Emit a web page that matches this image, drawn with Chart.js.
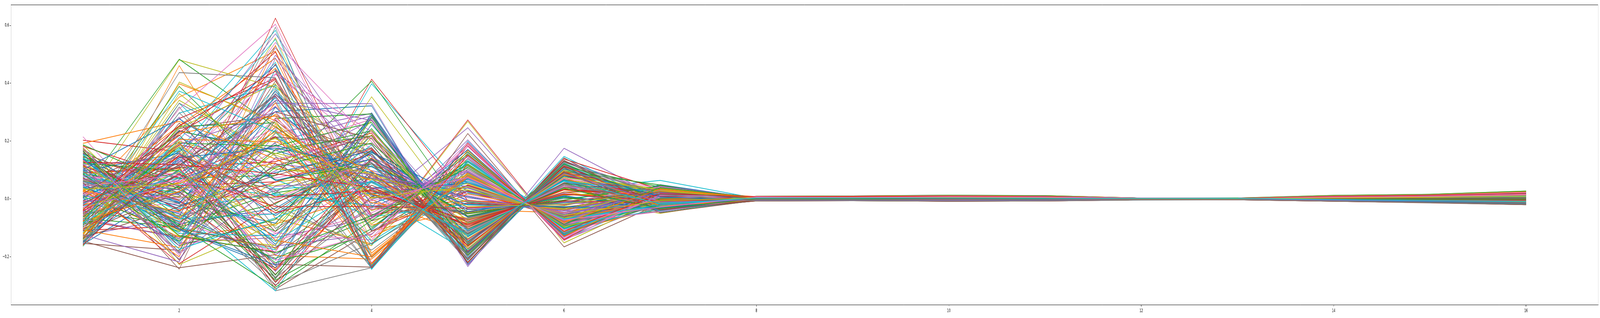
<!DOCTYPE html>
<html>
<head>
<meta charset="utf-8">
<script src="https://cdn.jsdelivr.net/npm/chart.js@4.4.1/dist/chart.umd.min.js"></script>
<style>
html, body { margin: 0; padding: 0; background: #ffffff; overflow: hidden; }
#wrap { width: 7813px; height: 813px; transform-origin: 0 0; }
canvas { display: block; }
</style>
</head>
<body>
<div id="wrap"><canvas id="c" width="7813" height="813" style="width:7813px;height:813px"></canvas></div>
<script>
// x positions shared by every series, and the tick labels
const xCategories = [1, 2, 3, 4, 5, 6, 7, 8, 9, 10, 11, 12, 13, 14, 15, 16];
const xTickValues = [2, 4, 6, 8, 10, 12, 14, 16];
const yTickValues = [-0.2, 0.0, 0.2, 0.4, 0.6];

// series values: one array per line, values at x = 1..16
const s000 = [0.131, 0.021, 0.214, 0.038, 0.061, -0.071, 0.012, 0.003, -0.002, 0.006, 0.004, 0.001, -0.001, 0.005, 0.008, 0.012];
const s001 = [-0.021, 0.142, 0.452, -0.003, -0.121, 0.047, -0.009, -0.002, 0.004, -0.003, 0.002, 0.000, 0.002, -0.003, -0.006, -0.010];
const s002 = [0.174, -0.064, -0.206, -0.068, 0.116, -0.094, -0.004, 0.006, 0.001, 0.009, -0.002, 0.002, 0.001, 0.007, 0.011, 0.019];
const s003 = [-0.142, 0.187, 0.121, -0.036, -0.015, -0.031, 0.027, -0.001, 0.003, -0.004, 0.005, -0.002, 0.000, -0.004, 0.002, -0.005];
const s004 = [0.052, -0.152, -0.134, -0.066, 0.169, -0.117, -0.021, 0.008, 0.006, 0.011, 0.007, 0.003, 0.002, 0.009, 0.013, 0.021];
const s005 = [-0.087, 0.244, 0.287, 0.148, -0.148, 0.102, 0.018, -0.004, -0.001, -0.006, -0.003, -0.002, -0.001, -0.005, -0.009, -0.014];
const s006 = [0.018, -0.048, -0.052, 0.121, -0.062, 0.019, -0.007, 0.002, -0.003, 0.004, 0.001, 0.001, 0.003, 0.002, 0.005, 0.009];
const s007 = [-0.063, 0.072, 0.338, -0.203, 0.097, -0.098, 0.034, 0.004, 0.007, 0.001, 0.006, -0.001, -0.002, 0.006, 0.009, 0.016];
const s008 = [0.094, 0.038, 0.046, 0.112, -0.081, 0.041, -0.031, -0.003, 0.002, -0.002, -0.004, 0.000, 0.001, -0.002, -0.004, -0.007];
const s009 = [-0.118, 0.297, 0.392, -0.243, 0.132, -0.081, 0.009, 0.005, 0.008, 0.012, 0.009, 0.002, 0.000, 0.010, 0.014, 0.024];
const s010 = [0.112, -0.107, -0.238, 0.298, -0.173, 0.087, 0.021, -0.005, -0.004, -0.007, -0.005, -0.003, -0.002, -0.006, -0.011, -0.017];
const s011 = [0.007, 0.352, 0.511, -0.111, -0.037, -0.048, 0.042, 0.001, 0.005, 0.002, 0.003, 0.001, 0.001, 0.001, -0.001, 0.003];
const s012 = [-0.041, -0.091, 0.021, 0.072, 0.024, -0.063, -0.018, 0.007, 0.000, 0.008, -0.001, 0.002, 0.003, 0.008, 0.012, 0.020];
const s013 = [0.203, 0.163, -0.287, 0.082, -0.097, 0.061, -0.026, -0.006, -0.005, -0.008, -0.006, -0.003, -0.003, -0.007, -0.012, -0.018];
const s014 = [0.036, 0.089, -0.163, -0.123, 0.204, -0.141, -0.012, 0.009, 0.010, 0.013, 0.010, 0.003, 0.002, 0.011, 0.015, 0.026];
const s015 = [-0.154, -0.178, 0.362, 0.068, -0.104, 0.054, 0.016, -0.002, 0.001, -0.001, 0.000, -0.001, 0.000, -0.001, -0.003, -0.004];
const s016 = [-0.096, 0.131, 0.072, 0.138, -0.029, -0.012, -0.038, -0.003, -0.006, -0.005, -0.002, -0.002, -0.001, -0.004, -0.007, -0.011];
const s017 = [0.071, -0.003, 0.193, -0.241, 0.141, -0.102, 0.003, 0.006, 0.004, 0.010, 0.008, 0.002, 0.001, 0.008, 0.010, 0.018];
const s018 = [-0.012, 0.481, 0.386, 0.137, -0.092, 0.038, 0.024, 0.002, 0.003, 0.001, 0.002, 0.000, 0.001, 0.003, 0.004, 0.006];
const s019 = [0.143, -0.097, -0.176, 0.398, 0.021, -0.037, 0.011, -0.001, 0.002, -0.002, 0.001, 0.001, -0.001, 0.000, -0.002, -0.003];
const s020 = [-0.149, 0.234, 0.168, 0.069, 0.008, -0.054, 0.029, 0.003, -0.001, 0.004, 0.002, 0.001, 0.002, 0.004, 0.006, 0.010];
const s021 = [0.089, 0.104, -0.196, -0.208, 0.072, -0.079, -0.027, 0.004, 0.006, 0.007, 0.005, 0.002, 0.001, 0.006, 0.009, 0.015];
const s022 = [0.025, 0.483, 0.248, 0.019, 0.038, -0.072, 0.006, 0.001, 0.004, 0.003, 0.004, 0.000, 0.000, 0.002, 0.001, 0.004];
const s023 = [-0.074, -0.131, -0.183, 0.414, -0.006, -0.021, 0.035, 0.000, 0.001, 0.002, 0.000, 0.001, 0.001, 0.001, 0.003, 0.002];
const s024 = [-0.128, -0.062, 0.097, 0.273, -0.112, 0.061, -0.015, -0.004, -0.002, -0.005, -0.004, -0.002, -0.002, -0.005, -0.008, -0.013];
const s025 = [0.058, 0.196, -0.312, -0.112, 0.071, -0.088, 0.019, 0.005, 0.005, 0.006, 0.004, 0.001, 0.000, 0.005, 0.007, 0.011];
const s026 = [0.161, -0.121, 0.431, 0.171, -0.102, 0.043, -0.041, -0.002, 0.000, -0.003, -0.001, -0.001, 0.001, -0.002, -0.005, -0.008];
const s027 = [-0.033, 0.113, 0.361, 0.154, -0.218, 0.128, 0.013, -0.007, -0.005, -0.008, -0.007, -0.004, -0.003, -0.008, -0.014, -0.020];
const s028 = [0.117, 0.004, 0.557, -0.147, 0.138, -0.113, -0.008, 0.008, 0.009, 0.011, 0.011, 0.003, 0.003, 0.012, 0.016, 0.027];
const s029 = [-0.161, 0.331, 0.013, -0.023, -0.084, 0.031, 0.064, 0.002, 0.002, 0.000, 0.001, 0.000, 0.000, 0.000, 0.001, 0.001];
const s030 = [0.083, -0.013, 0.302, 0.322, -0.226, 0.119, -0.019, 0.003, 0.001, 0.005, 0.003, 0.001, 0.002, 0.004, 0.005, 0.008];
const s031 = [-0.051, 0.184, -0.244, 0.033, -0.081, 0.024, -0.022, -0.001, -0.003, -0.002, -0.001, -0.001, -0.002, -0.003, -0.004, -0.006];
const s032 = [0.137, 0.071, 0.081, 0.407, -0.063, 0.012, 0.031, 0.001, 0.003, 0.002, 0.003, 0.001, 0.000, 0.002, 0.003, 0.005];
const s033 = [-0.009, 0.034, 0.466, -0.222, 0.118, -0.107, 0.004, 0.006, 0.007, 0.009, 0.006, 0.002, 0.001, 0.007, 0.011, 0.017];
const s034 = [0.046, -0.208, 0.227, 0.296, -0.181, 0.096, -0.033, -0.005, -0.004, -0.006, -0.005, -0.002, -0.002, -0.006, -0.010, -0.015];
const s035 = [-0.108, 0.101, 0.529, -0.024, -0.008, -0.028, 0.008, 0.000, 0.000, 0.001, -0.001, 0.000, 0.000, 0.000, 0.000, -0.001];
const s036 = [0.215, -0.156, -0.121, 0.073, 0.011, -0.049, -0.012, 0.004, 0.002, 0.005, 0.002, 0.001, 0.001, 0.004, 0.006, 0.009];
const s037 = [-0.136, 0.331, 0.149, -0.238, 0.159, -0.118, 0.022, 0.007, 0.008, 0.010, 0.009, 0.003, 0.002, 0.009, 0.014, 0.022];
const s038 = [0.064, 0.022, -0.147, 0.353, -0.088, 0.034, 0.017, 0.000, 0.002, 0.001, 0.002, 0.001, 0.000, 0.001, 0.002, 0.003];
const s039 = [-0.024, 0.052, 0.012, 0.019, -0.184, 0.098, 0.005, -0.004, -0.002, -0.005, -0.003, -0.002, -0.001, -0.004, -0.007, -0.012];
const s040 = [0.011, -0.043, 0.354, -0.031, 0.118, -0.083, -0.029, 0.005, 0.005, 0.008, 0.006, 0.002, 0.001, 0.006, 0.010, 0.016];
const s041 = [-0.163, 0.461, -0.068, -0.156, 0.049, -0.061, 0.013, 0.003, 0.004, 0.004, 0.003, 0.001, 0.001, 0.003, 0.004, 0.007];
const s042 = [0.153, -0.089, 0.278, 0.294, -0.198, 0.113, -0.044, -0.006, -0.005, -0.007, -0.006, -0.003, -0.002, -0.007, -0.012, -0.019];
const s043 = [-0.057, 0.278, 0.417, -0.112, 0.026, -0.066, 0.037, 0.004, 0.006, 0.006, 0.005, 0.002, 0.001, 0.005, 0.007, 0.012];
const s044 = [0.102, -0.071, 0.196, 0.287, -0.234, 0.175, 0.002, -0.003, -0.001, -0.004, -0.002, -0.001, -0.001, -0.003, -0.006, -0.009];
const s045 = [-0.078, 0.026, -0.226, -0.236, 0.226, -0.166, -0.016, 0.007, 0.006, 0.009, 0.008, 0.002, 0.002, 0.008, 0.012, 0.019];
const s046 = [0.031, 0.062, 0.183, 0.022, 0.054, -0.076, 0.026, 0.002, 0.003, 0.003, 0.001, 0.001, 0.000, 0.002, 0.003, 0.006];
const s047 = [-0.117, 0.103, -0.271, 0.083, -0.159, 0.082, -0.006, -0.004, -0.003, -0.006, -0.004, -0.002, -0.002, -0.005, -0.009, -0.014];
const s048 = [0.186, -0.131, 0.059, 0.094, -0.049, 0.006, -0.050, 0.001, -0.001, 0.000, 0.000, 0.000, 0.001, 0.000, -0.001, -0.002];
const s049 = [-0.092, 0.204, 0.583, -0.202, 0.087, -0.097, 0.014, 0.008, 0.009, 0.012, 0.010, 0.003, 0.002, 0.010, 0.015, 0.025];
const s050 = [0.127, -0.011, -0.084, 0.283, -0.203, 0.097, -0.024, 0.002, 0.001, 0.002, 0.001, 0.000, 0.001, 0.002, 0.002, 0.004];
const s051 = [0.003, 0.253, 0.487, -0.187, 0.076, -0.083, 0.028, 0.005, 0.006, 0.007, 0.005, 0.002, 0.001, 0.005, 0.008, 0.013];
const s052 = [-0.068, -0.096, -0.017, 0.166, -0.121, 0.053, 0.007, 0.000, 0.002, 0.001, 0.001, 0.000, 0.000, 0.001, 0.001, 0.002];
const s053 = [0.091, 0.108, -0.301, 0.088, -0.141, 0.072, -0.037, -0.007, -0.006, -0.008, -0.007, -0.003, -0.003, -0.008, -0.013, -0.019];
const s054 = [0.049, 0.126, 0.331, 0.329, -0.229, 0.131, 0.019, 0.004, 0.005, 0.006, 0.004, 0.001, 0.001, 0.005, 0.007, 0.012];
const s055 = [-0.146, -0.238, -0.193, 0.038, -0.059, 0.002, -0.011, 0.000, -0.001, 0.000, -0.001, 0.000, 0.000, 0.000, -0.001, -0.001];
const s056 = [-0.031, 0.009, 0.276, -0.058, 0.146, -0.113, 0.038, 0.006, 0.007, 0.009, 0.007, 0.002, 0.002, 0.007, 0.010, 0.017];
const s057 = [0.168, -0.186, 0.143, 0.068, -0.138, 0.068, -0.027, -0.003, -0.003, -0.004, -0.003, -0.001, -0.001, -0.003, -0.006, -0.010];
const s058 = [-0.104, 0.199, 0.103, 0.086, -0.027, -0.024, 0.046, 0.001, 0.002, 0.001, 0.002, 0.000, 0.001, 0.001, 0.000, 0.002];
const s059 = [0.077, 0.018, 0.384, -0.229, 0.168, -0.124, -0.001, 0.007, 0.006, 0.010, 0.008, 0.002, 0.002, 0.008, 0.012, 0.020];
const s060 = [-0.157, 0.047, -0.129, 0.221, -0.109, 0.041, 0.009, -0.002, -0.002, -0.003, -0.002, -0.001, -0.001, -0.002, -0.004, -0.007];
const s061 = [0.061, -0.024, 0.236, -0.198, 0.083, -0.086, -0.014, 0.009, 0.010, 0.012, 0.011, 0.003, 0.003, 0.011, 0.015, 0.025];
const s062 = [-0.085, 0.236, 0.157, 0.236, -0.156, 0.112, 0.041, -0.006, -0.005, -0.007, -0.005, -0.003, -0.002, -0.006, -0.011, -0.017];
const s063 = [0.145, 0.046, 0.059, 0.154, -0.171, 0.083, -0.003, 0.001, 0.000, 0.001, 0.000, 0.000, 0.000, 0.001, 0.000, 0.001];
const s064 = [-0.044, 0.157, -0.251, 0.098, 0.017, -0.041, 0.024, 0.003, 0.004, 0.004, 0.003, 0.001, 0.001, 0.003, 0.005, 0.008];
const s065 = [0.119, -0.243, 0.448, -0.054, -0.018, -0.032, -0.022, 0.002, 0.001, 0.003, 0.001, 0.001, 0.000, 0.002, 0.004, 0.006];
const s066 = [-0.016, 0.079, 0.541, 0.198, -0.106, 0.048, -0.031, -0.005, -0.004, -0.006, -0.005, -0.002, -0.002, -0.005, -0.009, -0.015];
const s067 = [0.038, 0.147, -0.318, -0.238, 0.113, -0.091, 0.011, 0.006, 0.007, 0.008, 0.006, 0.002, 0.001, 0.006, 0.009, 0.015];
const s068 = [-0.131, 0.189, -0.039, -0.162, 0.268, -0.152, 0.002, -0.002, 0.000, -0.002, -0.001, -0.001, 0.000, -0.002, -0.004, -0.006];
const s069 = [0.098, -0.041, -0.318, 0.157, -0.213, 0.147, -0.019, -0.005, -0.003, -0.006, -0.004, -0.002, -0.002, -0.005, -0.008, -0.013];
const s070 = [-0.112, 0.087, 0.318, 0.009, 0.061, -0.073, 0.033, 0.004, 0.005, 0.006, 0.004, 0.001, 0.001, 0.004, 0.006, 0.010];
const s071 = [0.024, -0.132, -0.087, 0.017, -0.098, 0.031, -0.009, 0.000, 0.001, 0.000, 0.001, 0.000, 0.000, 0.000, 0.000, 0.001];
const s072 = [-0.139, 0.251, 0.263, -0.098, 0.132, -0.101, -0.006, 0.009, 0.010, 0.013, 0.011, 0.003, 0.003, 0.012, 0.016, 0.027];
const s073 = [0.182, 0.073, 0.216, -0.158, 0.273, -0.143, 0.015, -0.002, -0.001, -0.003, -0.002, -0.001, -0.001, -0.002, -0.004, -0.007];
const s074 = [-0.061, 0.238, 0.022, 0.237, -0.112, 0.052, -0.043, -0.001, -0.002, -0.002, -0.001, -0.001, -0.001, -0.002, -0.003, -0.005];
const s075 = [0.074, -0.108, 0.408, -0.112, 0.048, -0.068, 0.021, 0.005, 0.004, 0.006, 0.004, 0.001, 0.001, 0.005, 0.008, 0.012];
const s076 = [-0.037, -0.016, 0.167, 0.276, -0.163, 0.089, 0.003, -0.001, 0.000, -0.002, 0.000, 0.000, 0.000, -0.001, -0.002, -0.003];
const s077 = [0.055, -0.064, 0.594, -0.232, 0.129, -0.107, -0.035, 0.007, 0.006, 0.009, 0.007, 0.002, 0.002, 0.007, 0.011, 0.018];
const s078 = [-0.151, 0.168, -0.174, 0.213, -0.131, 0.066, 0.027, -0.003, -0.004, -0.004, -0.003, -0.002, -0.001, -0.004, -0.007, -0.011];
const s079 = [0.013, 0.127, 0.472, -0.244, 0.199, -0.137, 0.001, 0.008, 0.008, 0.011, 0.009, 0.003, 0.002, 0.009, 0.013, 0.022];
const s080 = [0.041, -0.086, -0.033, 0.162, -0.006, -0.039, 0.049, 0.001, 0.001, 0.001, 0.000, 0.000, 0.001, 0.001, 0.000, 0.001];
const s081 = [-0.124, 0.398, 0.271, -0.202, 0.091, -0.078, -0.018, 0.005, 0.007, 0.007, 0.005, 0.002, 0.001, 0.005, 0.008, 0.014];
const s082 = [0.087, 0.032, -0.112, 0.289, -0.221, 0.123, -0.012, -0.006, -0.005, -0.007, -0.006, -0.003, -0.002, -0.007, -0.012, -0.018];
const s083 = [-0.006, 0.109, 0.129, 0.228, -0.219, 0.138, 0.032, 0.002, 0.003, 0.003, 0.002, 0.001, 0.001, 0.002, 0.003, 0.005];
const s084 = [0.109, -0.034, 0.523, 0.036, 0.066, -0.081, -0.023, 0.004, 0.004, 0.005, 0.004, 0.001, 0.001, 0.004, 0.006, 0.009];
const s085 = [-0.097, 0.088, -0.261, 0.087, -0.121, 0.056, 0.012, -0.002, -0.002, -0.003, -0.002, -0.001, -0.001, -0.002, -0.004, -0.006];
const s086 = [0.134, -0.099, 0.352, -0.038, 0.102, -0.092, 0.004, 0.008, 0.009, 0.011, 0.009, 0.003, 0.002, 0.010, 0.014, 0.023];
const s087 = [-0.073, 0.193, -0.277, 0.137, -0.192, 0.117, -0.029, -0.006, -0.004, -0.007, -0.006, -0.002, -0.002, -0.006, -0.010, -0.016];
const s088 = [0.029, 0.101, 0.209, 0.018, 0.031, -0.058, 0.043, 0.003, 0.004, 0.004, 0.002, 0.001, 0.001, 0.003, 0.005, 0.008];
const s089 = [-0.164, 0.212, 0.067, -0.062, -0.018, -0.036, -0.013, 0.001, 0.002, 0.001, 0.001, 0.000, 0.001, 0.001, 0.001, 0.002];
const s090 = [0.156, -0.018, 0.372, -0.016, 0.092, -0.082, 0.017, 0.006, 0.006, 0.008, 0.006, 0.002, 0.001, 0.006, 0.009, 0.015];
const s091 = [-0.021, 0.057, 0.293, 0.079, -0.151, 0.073, -0.036, -0.004, -0.003, -0.005, -0.004, -0.002, -0.001, -0.004, -0.007, -0.012];
const s092 = [0.008, -0.113, 0.171, 0.218, -0.146, 0.079, 0.008, 0.000, 0.001, 0.000, 0.001, 0.000, 0.000, 0.000, -0.001, 0.000];
const s093 = [-0.109, -0.094, 0.625, -0.062, 0.047, -0.061, -0.004, 0.004, 0.005, 0.006, 0.004, 0.001, 0.001, 0.004, 0.006, 0.010];
const s094 = [0.067, 0.132, -0.231, -0.027, 0.246, -0.128, 0.025, 0.005, 0.003, 0.007, 0.005, 0.002, 0.001, 0.005, 0.008, 0.013];
const s095 = [-0.049, 0.117, 0.356, -0.076, 0.028, -0.052, -0.021, 0.002, 0.003, 0.003, 0.002, 0.001, 0.000, 0.002, 0.003, 0.005];
const s096 = [0.121, -0.082, -0.183, 0.284, -0.173, 0.096, 0.036, -0.005, -0.004, -0.006, -0.004, -0.002, -0.002, -0.005, -0.009, -0.014];
const s097 = [-0.029, 0.112, 0.031, -0.227, 0.103, -0.091, -0.041, 0.006, 0.006, 0.008, 0.006, 0.002, 0.001, 0.006, 0.009, 0.016];
const s098 = [0.071, 0.007, 0.006, 0.141, -0.072, 0.016, 0.014, 0.000, 0.000, 0.000, 0.000, 0.000, 0.000, 0.000, -0.001, -0.001];
const s099 = [0.062, -0.033, 0.018, -0.023, -0.044, 0.003, 0.021, -0.001, 0.001, -0.001, 0.000, 0.000, 0.000, -0.001, -0.001, -0.002];
const s100 = [0.097, 0.158, -0.058, 0.161, -0.044, 0.008, -0.027, 0.002, -0.001, 0.003, 0.002, 0.001, -0.001, 0.002, 0.004, 0.007];
const s101 = [-0.058, 0.056, 0.124, -0.131, 0.018, -0.047, 0.018, -0.001, 0.002, -0.002, 0.001, 0.000, 0.001, -0.002, -0.003, -0.005];
const s102 = [0.142, -0.162, -0.071, 0.243, -0.154, 0.091, -0.012, 0.005, 0.003, 0.007, 0.004, 0.002, 0.001, 0.006, 0.009, 0.014];
const s103 = [-0.023, 0.231, 0.413, -0.239, 0.183, -0.131, 0.029, -0.003, -0.002, -0.004, -0.003, -0.001, -0.001, -0.004, -0.007, -0.012];
const s104 = [0.013, -0.058, 0.497, 0.146, -0.031, -0.019, 0.006, 0.007, 0.005, 0.009, 0.006, 0.002, 0.002, 0.008, 0.012, 0.019];
const s105 = [-0.116, 0.024, -0.239, 0.059, -0.097, 0.042, -0.033, -0.005, -0.003, -0.006, -0.004, -0.002, -0.002, -0.006, -0.010, -0.016];
const s106 = [0.069, 0.089, 0.244, -0.134, 0.187, -0.138, 0.039, 0.001, 0.004, 0.000, 0.003, 0.000, 0.001, 0.001, 0.001, 0.003];
const s107 = [-0.152, 0.318, -0.102, 0.091, -0.172, 0.104, -0.008, 0.004, 0.002, 0.006, 0.003, 0.001, 0.000, 0.004, 0.006, 0.010];
const s108 = [0.038, -0.109, 0.229, -0.041, 0.084, -0.069, 0.022, -0.002, -0.004, -0.001, -0.003, -0.001, -0.002, -0.002, -0.004, -0.006];
const s109 = [-0.071, 0.174, 0.034, 0.056, -0.109, 0.061, -0.046, 0.006, 0.007, 0.008, 0.007, 0.002, 0.002, 0.007, 0.011, 0.018];
const s110 = [0.003, -0.147, 0.317, 0.017, 0.056, -0.058, 0.031, 0.003, 0.001, 0.004, 0.002, 0.001, 0.000, 0.003, 0.005, 0.008];
const s111 = [0.192, 0.268, 0.138, -0.013, -0.067, 0.014, 0.011, -0.004, -0.005, -0.004, -0.004, -0.002, -0.002, -0.005, -0.009, -0.013];
const s112 = [-0.089, 0.043, -0.281, -0.103, 0.154, -0.119, -0.019, 0.008, 0.008, 0.011, 0.009, 0.003, 0.002, 0.010, 0.014, 0.023];
const s113 = [0.056, -0.224, -0.013, 0.122, -0.162, 0.092, 0.026, -0.001, 0.000, -0.002, 0.000, 0.000, 0.000, -0.001, -0.002, -0.003];
const s114 = [0.118, 0.141, 0.571, 0.092, 0.004, -0.041, -0.039, 0.002, 0.004, 0.002, 0.003, 0.001, 0.001, 0.002, 0.002, 0.005];
const s115 = [-0.134, -0.027, 0.081, 0.177, -0.188, 0.111, 0.004, -0.006, -0.006, -0.007, -0.006, -0.003, -0.002, -0.007, -0.012, -0.019];
const s116 = [-0.011, 0.208, -0.144, -0.048, 0.108, -0.107, 0.017, 0.005, 0.006, 0.007, 0.006, 0.002, 0.001, 0.006, 0.009, 0.015];
const s117 = [0.107, -0.183, 0.396, 0.028, -0.119, 0.047, -0.024, 0.000, -0.002, 0.001, -0.001, 0.000, 0.000, 0.000, -0.001, 0.000];
const s118 = [-0.163, 0.404, 0.262, 0.002, 0.053, -0.067, 0.035, 0.003, 0.005, 0.003, 0.004, 0.001, 0.001, 0.003, 0.004, 0.007];
const s119 = [0.081, -0.068, -0.052, 0.187, -0.197, 0.123, -0.014, -0.003, -0.002, -0.004, -0.002, -0.001, -0.001, -0.003, -0.005, -0.009];
const s120 = [-0.128, 0.067, 0.186, 0.091, -0.012, -0.029, 0.007, 0.004, 0.003, 0.005, 0.003, 0.001, 0.001, 0.004, 0.007, 0.011];
const s121 = [0.027, -0.071, 0.332, -0.228, 0.152, -0.114, -0.031, 0.006, 0.005, 0.008, 0.006, 0.002, 0.001, 0.007, 0.010, 0.017];
const s122 = [-0.098, 0.193, 0.183, 0.264, -0.163, 0.096, 0.048, -0.005, -0.004, -0.007, -0.005, -0.002, -0.002, -0.006, -0.010, -0.016];
const s123 = [0.136, -0.039, 0.058, 0.173, -0.161, 0.086, -0.005, 0.001, 0.002, 0.001, 0.001, 0.001, 0.000, 0.001, 0.001, 0.002];
const s124 = [-0.047, 0.283, -0.193, -0.002, 0.097, -0.089, 0.013, 0.005, 0.006, 0.006, 0.005, 0.002, 0.001, 0.005, 0.008, 0.013];
const s125 = [0.167, -0.212, 0.272, 0.014, -0.052, -0.007, -0.028, -0.002, -0.001, -0.003, -0.002, -0.001, 0.000, -0.002, -0.004, -0.006];
const s126 = [-0.019, 0.126, 0.433, 0.233, -0.138, 0.071, 0.021, -0.004, -0.003, -0.005, -0.004, -0.002, -0.001, -0.004, -0.008, -0.012];
const s127 = [0.062, 0.014, -0.297, -0.153, 0.039, -0.062, -0.017, 0.007, 0.007, 0.009, 0.008, 0.002, 0.002, 0.008, 0.012, 0.020];
const s128 = [-0.143, 0.364, 0.104, 0.068, -0.009, -0.034, 0.031, 0.002, 0.003, 0.002, 0.002, 0.001, 0.001, 0.002, 0.003, 0.005];
const s129 = [0.091, -0.119, -0.128, 0.116, -0.177, 0.108, -0.042, -0.006, -0.005, -0.006, -0.005, -0.003, -0.002, -0.006, -0.011, -0.017];
const s130 = [0.004, 0.163, 0.463, -0.108, 0.171, -0.126, 0.009, 0.008, 0.009, 0.010, 0.009, 0.003, 0.002, 0.009, 0.013, 0.021];
const s131 = [-0.107, -0.168, 0.251, 0.019, -0.086, 0.024, 0.024, 0.001, 0.000, 0.002, 0.000, 0.000, 0.000, 0.001, 0.002, 0.003];
const s132 = [0.123, 0.097, -0.264, 0.134, -0.059, 0.006, -0.021, -0.001, 0.001, -0.002, 0.000, 0.000, 0.001, -0.001, -0.002, -0.003];
const s133 = [-0.036, 0.219, 0.508, -0.233, 0.192, -0.141, 0.036, 0.006, 0.007, 0.008, 0.007, 0.002, 0.002, 0.007, 0.011, 0.017];
const s134 = [-0.067, -0.136, 0.121, 0.084, 0.024, -0.046, -0.009, 0.003, 0.002, 0.004, 0.003, 0.001, 0.001, 0.003, 0.005, 0.009];
const s135 = [0.158, 0.036, 0.214, 0.189, -0.207, 0.133, -0.027, -0.007, -0.006, -0.008, -0.007, -0.003, -0.003, -0.008, -0.013, -0.020];
const s136 = [0.078, 0.058, 0.001, 0.132, -0.036, -0.013, 0.042, 0.002, 0.001, 0.003, 0.001, 0.001, 0.000, 0.002, 0.003, 0.004];
const s137 = [-0.159, 0.298, -0.021, -0.177, 0.071, -0.074, -0.011, 0.004, 0.006, 0.005, 0.005, 0.001, 0.001, 0.004, 0.006, 0.010];
const s138 = [0.176, -0.227, -0.087, 0.271, -0.174, 0.101, 0.019, -0.003, -0.003, -0.004, -0.003, -0.001, -0.001, -0.003, -0.006, -0.010];
const s139 = [-0.003, 0.073, 0.349, -0.236, 0.132, -0.104, -0.034, 0.007, 0.006, 0.009, 0.007, 0.002, 0.002, 0.008, 0.012, 0.019];
const s140 = [0.047, -0.052, -0.211, 0.258, -0.131, 0.066, 0.001, -0.004, -0.003, -0.005, -0.003, -0.002, -0.001, -0.004, -0.007, -0.011];
const s141 = [-0.121, 0.227, 0.287, -0.091, -0.004, -0.038, 0.027, 0.001, 0.003, 0.001, 0.002, 0.000, 0.001, 0.001, 0.001, 0.003];
const s142 = [0.149, -0.094, -0.306, -0.074, 0.121, -0.097, -0.023, 0.005, 0.005, 0.007, 0.005, 0.002, 0.001, 0.006, 0.009, 0.014];
const s143 = [-0.042, 0.147, -0.048, 0.033, -0.088, 0.033, 0.014, -0.002, -0.002, -0.003, -0.002, -0.001, -0.001, -0.002, -0.003, -0.005];
const s144 = [0.109, -0.189, 0.044, 0.059, 0.044, -0.059, 0.038, 0.003, 0.002, 0.004, 0.002, 0.001, 0.001, 0.003, 0.004, 0.007];
const s145 = [-0.076, 0.118, 0.301, 0.208, -0.211, 0.131, -0.019, -0.006, -0.005, -0.007, -0.006, -0.003, -0.002, -0.007, -0.012, -0.018];
const s146 = [0.022, 0.003, 0.137, 0.212, -0.103, 0.043, 0.006, 0.000, 0.001, 0.000, 0.001, 0.000, 0.000, 0.000, 0.000, 0.001];
const s147 = [-0.094, 0.437, 0.419, -0.202, 0.081, -0.081, -0.029, 0.004, 0.005, 0.005, 0.004, 0.001, 0.001, 0.004, 0.006, 0.010];
const s148 = [0.131, -0.129, -0.161, 0.238, -0.149, 0.084, 0.033, -0.004, -0.004, -0.005, -0.004, -0.002, -0.002, -0.005, -0.008, -0.013];
const s149 = [-0.018, 0.169, 0.552, -0.231, 0.138, -0.117, 0.011, 0.007, 0.008, 0.010, 0.008, 0.003, 0.002, 0.009, 0.013, 0.022];
const s150 = [0.059, -0.024, 0.091, 0.166, -0.064, 0.011, -0.038, 0.002, 0.000, 0.003, 0.001, 0.001, 0.000, 0.002, 0.003, 0.005];
const s151 = [-0.069, 0.206, 0.198, 0.062, -0.127, 0.063, 0.024, -0.003, -0.004, -0.003, -0.003, -0.002, -0.001, -0.003, -0.006, -0.010];
const s152 = [0.187, 0.041, -0.221, -0.121, 0.163, -0.121, 0.003, 0.006, 0.007, 0.008, 0.007, 0.002, 0.002, 0.007, 0.010, 0.016];
const s153 = [-0.104, 0.084, -0.027, -0.026, -0.032, -0.006, -0.015, 0.000, -0.001, 0.001, -0.001, 0.000, 0.000, 0.000, 0.000, -0.001];
const s154 = [0.084, -0.162, 0.447, 0.123, -0.006, -0.041, 0.029, 0.004, 0.003, 0.005, 0.003, 0.001, 0.001, 0.004, 0.006, 0.009];
const s155 = [-0.137, 0.262, -0.041, 0.169, -0.181, 0.109, -0.048, -0.005, -0.005, -0.006, -0.005, -0.002, -0.002, -0.006, -0.010, -0.015];
const s156 = [0.016, 0.064, -0.118, -0.142, 0.196, -0.144, 0.019, 0.008, 0.007, 0.010, 0.008, 0.003, 0.002, 0.009, 0.013, 0.021];
const s157 = [0.096, -0.141, 0.378, 0.032, -0.113, 0.051, -0.008, -0.001, 0.000, -0.001, 0.000, 0.000, 0.000, -0.001, -0.001, -0.002];
const s158 = [-0.127, 0.341, 0.152, 0.026, 0.031, -0.053, 0.037, 0.002, 0.004, 0.002, 0.003, 0.001, 0.001, 0.002, 0.003, 0.006];
const s159 = [0.043, -0.077, 0.239, -0.158, 0.069, -0.071, -0.026, 0.005, 0.004, 0.006, 0.004, 0.002, 0.001, 0.005, 0.008, 0.012];
const s160 = [-0.152, 0.138, -0.157, 0.281, -0.146, 0.078, 0.012, -0.004, -0.003, -0.005, -0.004, -0.002, -0.001, -0.004, -0.007, -0.012];
const s161 = [0.034, -0.201, 0.531, -0.194, 0.078, -0.076, -0.001, 0.006, 0.005, 0.007, 0.005, 0.002, 0.001, 0.006, 0.009, 0.015];
const s162 = [-0.081, 0.389, 0.064, 0.121, -0.051, -0.004, 0.045, 0.001, 0.002, 0.001, 0.001, 0.000, 0.001, 0.001, 0.001, 0.002];
const s163 = [0.114, -0.006, -0.247, 0.142, -0.182, 0.114, -0.021, -0.006, -0.005, -0.007, -0.006, -0.003, -0.002, -0.007, -0.011, -0.018];
const s164 = [-0.057, 0.188, 0.301, -0.063, 0.147, -0.119, 0.005, 0.007, 0.008, 0.009, 0.008, 0.002, 0.002, 0.008, 0.012, 0.020];
const s165 = [0.171, -0.103, -0.169, 0.047, -0.079, 0.023, 0.034, 0.000, 0.001, 0.000, 0.001, 0.000, 0.000, 0.000, 0.001, 0.001];
const s166 = [-0.028, 0.051, 0.321, -0.029, 0.094, -0.084, -0.044, 0.003, 0.004, 0.004, 0.003, 0.001, 0.001, 0.003, 0.005, 0.008];
const s167 = [0.061, -0.061, 0.028, 0.126, -0.194, 0.118, 0.016, -0.005, -0.004, -0.006, -0.004, -0.002, -0.002, -0.005, -0.009, -0.014];
const s168 = [-0.118, 0.246, 0.398, -0.086, 0.118, -0.097, -0.012, 0.005, 0.006, 0.007, 0.006, 0.002, 0.001, 0.006, 0.009, 0.015];
const s169 = [0.153, -0.174, -0.066, 0.063, -0.128, 0.062, 0.023, -0.002, -0.001, -0.003, -0.001, -0.001, -0.001, -0.002, -0.004, -0.006];
const s170 = [-0.146, 0.143, 0.176, 0.111, -0.021, -0.027, -0.031, 0.003, 0.003, 0.004, 0.002, 0.001, 0.001, 0.003, 0.004, 0.007];
const s171 = [0.029, -0.045, 0.258, -0.226, 0.168, -0.129, 0.027, 0.008, 0.009, 0.011, 0.009, 0.003, 0.002, 0.010, 0.014, 0.024];
const s172 = [-0.063, 0.179, -0.276, 0.283, -0.193, 0.121, -0.004, -0.006, -0.006, -0.007, -0.006, -0.003, -0.002, -0.007, -0.012, -0.019];
const s173 = [0.127, 0.118, 0.087, 0.039, -0.092, 0.032, 0.009, 0.001, 0.000, 0.002, 0.000, 0.000, 0.000, 0.001, 0.001, 0.002];
const s174 = [-0.009, 0.017, 0.361, 0.033, 0.072, -0.076, 0.044, 0.004, 0.005, 0.005, 0.004, 0.001, 0.001, 0.004, 0.006, 0.011];
const s175 = [0.072, -0.081, 0.114, 0.219, -0.222, 0.142, -0.037, -0.007, -0.006, -0.008, -0.007, -0.003, -0.003, -0.008, -0.013, -0.020];
const s176 = [-0.101, 0.311, 0.604, -0.068, 0.139, -0.108, 0.006, 0.006, 0.007, 0.008, 0.006, 0.002, 0.001, 0.007, 0.010, 0.016];
const s177 = [0.053, -0.016, -0.273, -0.027, -0.069, 0.018, -0.019, 0.000, 0.001, 0.000, 0.000, 0.000, 0.000, 0.000, 0.000, 0.001];
const s178 = [-0.034, 0.093, -0.094, 0.222, -0.137, 0.074, 0.031, -0.003, -0.002, -0.004, -0.003, -0.001, -0.001, -0.003, -0.006, -0.009];
const s179 = [0.141, -0.154, 0.446, -0.242, 0.127, -0.103, -0.015, 0.007, 0.007, 0.009, 0.008, 0.002, 0.002, 0.008, 0.012, 0.019];
const s180 = [0.101, 0.277, 0.064, 0.137, -0.037, -0.014, 0.018, 0.002, 0.002, 0.002, 0.002, 0.001, 0.000, 0.002, 0.003, 0.004];
const s181 = [-0.077, 0.026, 0.233, 0.097, -0.166, 0.097, -0.024, -0.005, -0.004, -0.006, -0.005, -0.002, -0.002, -0.005, -0.009, -0.015];
const s182 = [0.164, -0.127, -0.186, -0.058, 0.108, -0.088, 0.039, 0.005, 0.005, 0.006, 0.005, 0.002, 0.001, 0.005, 0.008, 0.013];
const s183 = [-0.159, 0.152, 0.007, 0.028, -0.074, 0.017, -0.007, -0.001, -0.001, -0.001, -0.001, 0.000, 0.000, -0.001, -0.002, -0.003];
const s184 = [-0.124, -0.218, 0.486, 0.072, 0.037, -0.053, 0.021, 0.004, 0.003, 0.005, 0.003, 0.001, 0.001, 0.004, 0.007, 0.011];
const s185 = [0.018, 0.221, -0.113, 0.136, -0.151, 0.093, -0.039, -0.004, -0.004, -0.005, -0.004, -0.002, -0.001, -0.004, -0.008, -0.012];
const s186 = [0.044, 0.082, -0.212, -0.121, 0.181, -0.133, 0.012, 0.008, 0.008, 0.010, 0.008, 0.003, 0.002, 0.009, 0.013, 0.022];
const s187 = [-0.052, 0.009, 0.364, 0.034, -0.117, 0.051, -0.016, -0.002, -0.003, -0.002, -0.002, -0.001, -0.001, -0.002, -0.004, -0.006];
const s188 = [0.112, -0.063, 0.158, 0.086, -0.027, -0.018, 0.026, 0.003, 0.002, 0.004, 0.002, 0.001, 0.001, 0.003, 0.005, 0.008];
const s189 = [-0.086, 0.373, 0.231, -0.147, 0.061, -0.069, -0.022, 0.004, 0.005, 0.005, 0.004, 0.001, 0.001, 0.004, 0.006, 0.010];
const s190 = [0.138, -0.104, -0.229, 0.291, -0.186, 0.104, 0.007, -0.005, -0.005, -0.006, -0.005, -0.002, -0.002, -0.006, -0.010, -0.016];
const s191 = [-0.131, 0.194, -0.143, -0.201, 0.088, -0.082, 0.033, 0.005, 0.006, 0.006, 0.005, 0.002, 0.001, 0.005, 0.008, 0.013];
const s192 = [0.086, -0.146, 0.109, 0.193, -0.104, 0.037, -0.033, 0.000, -0.001, 0.001, -0.001, 0.000, 0.000, 0.000, -0.001, -0.001];
const s193 = [-0.039, 0.252, 0.442, -0.238, 0.151, -0.112, 0.018, 0.007, 0.008, 0.009, 0.008, 0.002, 0.002, 0.008, 0.012, 0.019];
const s194 = [0.066, 0.031, 0.341, 0.271, -0.153, 0.088, -0.011, -0.004, -0.003, -0.005, -0.003, -0.002, -0.001, -0.004, -0.007, -0.011];
const s195 = [-0.014, 0.124, -0.289, 0.008, -0.046, -0.009, 0.024, 0.001, 0.002, 0.001, 0.001, 0.000, 0.000, 0.001, 0.002, 0.003];
const s196 = [0.179, -0.196, 0.281, -0.007, 0.074, -0.073, -0.028, 0.006, 0.005, 0.007, 0.006, 0.002, 0.001, 0.006, 0.009, 0.015];
const s197 = [-0.108, 0.158, -0.004, 0.121, -0.197, 0.126, 0.015, -0.006, -0.005, -0.007, -0.006, -0.003, -0.002, -0.007, -0.012, -0.018];
const s198 = [0.033, 0.052, 0.211, 0.004, 0.042, -0.057, -0.006, 0.003, 0.003, 0.004, 0.002, 0.001, 0.001, 0.003, 0.005, 0.008];
const s199 = [-0.082, 0.097, -0.148, 0.061, -0.124, 0.064, -0.017, 0.003, 0.003, 0.003, 0.002, 0.002, 0.002, -0.002, -0.006, -0.010];

const seriesList = [
  s000, s001, s002, s003, s004, s005, s006, s007, s008, s009,
  s010, s011, s012, s013, s014, s015, s016, s017, s018, s019,
  s020, s021, s022, s023, s024, s025, s026, s027, s028, s029,
  s030, s031, s032, s033, s034, s035, s036, s037, s038, s039,
  s040, s041, s042, s043, s044, s045, s046, s047, s048, s049,
  s050, s051, s052, s053, s054, s055, s056, s057, s058, s059,
  s060, s061, s062, s063, s064, s065, s066, s067, s068, s069,
  s070, s071, s072, s073, s074, s075, s076, s077, s078, s079,
  s080, s081, s082, s083, s084, s085, s086, s087, s088, s089,
  s090, s091, s092, s093, s094, s095, s096, s097, s098, s099,
  s100, s101, s102, s103, s104, s105, s106, s107, s108, s109,
  s110, s111, s112, s113, s114, s115, s116, s117, s118, s119,
  s120, s121, s122, s123, s124, s125, s126, s127, s128, s129,
  s130, s131, s132, s133, s134, s135, s136, s137, s138, s139,
  s140, s141, s142, s143, s144, s145, s146, s147, s148, s149,
  s150, s151, s152, s153, s154, s155, s156, s157, s158, s159,
  s160, s161, s162, s163, s164, s165, s166, s167, s168, s169,
  s170, s171, s172, s173, s174, s175, s176, s177, s178, s179,
  s180, s181, s182, s183, s184, s185, s186, s187, s188, s189,
  s190, s191, s192, s193, s194, s195, s196, s197, s198, s199
];

// matplotlib default colour cycle
const palette = ['#1f77b4', '#ff7f0e', '#2ca02c', '#d62728', '#9467bd',
                 '#8c564b', '#e377c2', '#7f7f7f', '#bcbd22', '#17becf'];

const datasets = seriesList.map((vals, i) => ({
  label: 'series ' + i,
  data: xCategories.map((x, j) => ({ x: x, y: vals[j] })),
  borderColor: palette[i % palette.length],
  backgroundColor: palette[i % palette.length],
  borderWidth: 2,
  pointRadius: 0,
  fill: false,
  tension: 0,
  order: seriesList.length - i
}));

// top and right spines (left and bottom come from the axes)
const framePlugin = {
  id: 'frame',
  afterDraw(chart) {
    const a = chart.chartArea;
    const c = chart.ctx;
    const top = Math.round(a.top) + 0.5;
    const right = Math.round(a.right) - 0.5;
    c.save();
    c.strokeStyle = '#000000';
    c.lineWidth = 1;
    c.beginPath();
    c.moveTo(a.left, top);
    c.lineTo(right, top);
    c.lineTo(right, a.bottom);
    c.stroke();
    c.restore();
  }
};

const fmt = v => {
  const s = Math.abs(v).toFixed(1);
  return v < -1e-9 ? '\u2212' + s : s;
};

// fit the 7813x813 drawing into whatever viewport the browser really has
(function fitToViewport() {
  const W = 7813, H = 813;
  const vw = window.innerWidth || document.documentElement.clientWidth || W;
  const vh = window.innerHeight || document.documentElement.clientHeight || H;
  const sx = Math.min(1, vw / W);
  const sy = Math.min(1, vh / H);
  if (sx < 1 || sy < 1) {
    document.getElementById('wrap').style.transform = 'scale(' + sx + ',' + sy + ')';
  }
})();

new Chart(document.getElementById('c').getContext('2d'), {
  type: 'line',
  data: { datasets },
  options: {
    responsive: false,
    animation: false,
    devicePixelRatio: 1,
    events: [],
    layout: { padding: { top: 9, right: 9, left: 0, bottom: 0 } },
    plugins: { legend: { display: false }, tooltip: { enabled: false } },
    scales: {
      x: {
        type: 'linear',
        min: 0.25,
        max: 16.75,
        afterBuildTicks: axis => { axis.ticks = xTickValues.map(v => ({ value: v })); },
        afterFit: axis => { axis.height = 34; },
        grid: { display: true, drawOnChartArea: false, tickLength: 5, tickColor: '#000', tickWidth: 1 },
        border: { display: true, color: '#000', width: 1 },
        ticks: { color: '#000', font: { family: 'DejaVu Sans', size: 13 }, padding: 3,
                 maxRotation: 0, autoSkip: false, callback: v => String(v) }
      },
      y: {
        type: 'linear',
        min: -0.366,
        max: 0.672,
        afterBuildTicks: axis => { axis.ticks = yTickValues.map(v => ({ value: v })); },
        afterFit: axis => { axis.width = 53; },
        grid: { display: true, drawOnChartArea: false, tickLength: 5, tickColor: '#000', tickWidth: 1 },
        border: { display: true, color: '#000', width: 1 },
        ticks: { color: '#000', font: { family: 'DejaVu Sans', size: 13 }, padding: 4,
                 autoSkip: false, callback: v => fmt(v) }
      }
    }
  },
  plugins: [framePlugin]
});
</script>
</body>
</html>
